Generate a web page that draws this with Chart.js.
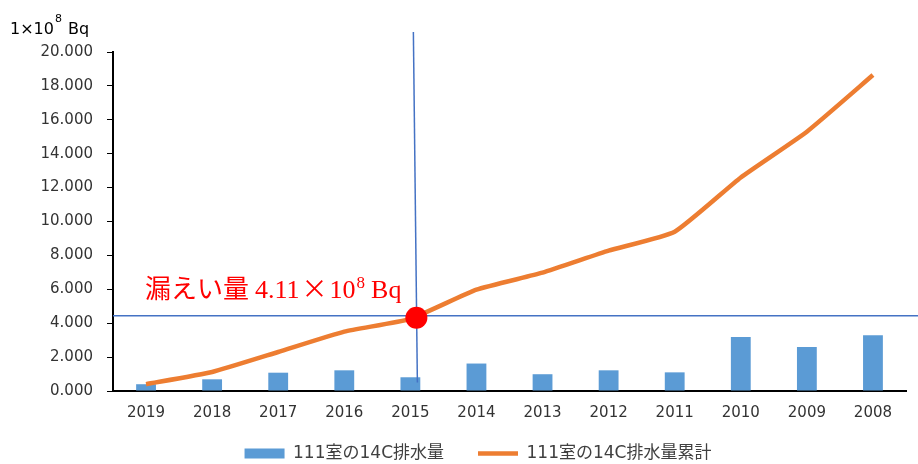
<!DOCTYPE html>
<html>
<head>
<meta charset="utf-8">
<script src="https://cdn.jsdelivr.net/npm/chart.js@4"></script>
<style>
  body { margin: 0; background: #fff; }
  #wrap { width: 918px; height: 464px; }
</style>
</head>
<body>
<div id="wrap"><canvas id="c14-chart"></canvas></div>
<script>
// years, newest first (as in the original sheet)
const years = ['2019', '2018', '2017', '2016', '2015', '2014', '2013', '2012', '2011', '2010', '2009', '2008'];
// yearly 14C drainage from room 111 (x1e8 Bq)
const yearly = [0.40, 0.69, 1.08, 1.22, 0.81, 1.62, 0.99, 1.22, 1.10, 3.19, 2.60, 3.29];
// running total
const cumulative = [0.40, 1.12, 2.30, 3.50, 4.26, 5.98, 6.98, 8.28, 9.40, 12.60, 15.30, 18.64];
// marker for the leak estimate
const leakYear = '2015';
const leakValue = 4.32;
const leakLine = 4.44;
const yTicks = [0, 2, 4, 6, 8, 10, 12, 14, 16, 18, 20];

const ctx = document.getElementById('c14-chart').getContext('2d');

// draws text pieces one after another, returns end x
function pieces(c, x, y, parts) {
    parts.forEach(p => {
        c.font = p.font;
        c.fillText(p.text, x, y + (p.dy || 0));
        x += c.measureText(p.text).width + (p.gap || 0);
    });
    return x;
}

// extra drawing: unit label, cross lines, red dot and red note
const overlay = {
    id: 'overlay',
    afterLayout(chart) {
        // legend keeps wide gaps between items but sits low like the original
        chart.legend.top -= 26;
        chart.legend.left += 50;
    },
    afterDatasetsDraw(chart) {
        const c = chart.ctx;
        const xs = chart.scales.x, ys = chart.scales.y;
        const area = chart.chartArea;
        const lx = xs.getPixelForValue(years.indexOf(leakYear)) + 5;
        const ly = ys.getPixelForValue(leakLine);
        c.save();
        c.strokeStyle = '#4472C4';
        c.lineWidth = 1.5;
        c.beginPath();
        c.moveTo(area.left, ly);
        c.lineTo(chart.width, ly);
        c.stroke();
        c.beginPath();
        c.moveTo(lx - 2, 32);
        c.lineTo(lx + 2, ys.getPixelForValue(0.5));
        c.stroke();
        // dot
        c.fillStyle = '#FF0000';
        c.beginPath();
        c.arc(lx + 1, ys.getPixelForValue(leakValue), 11, 0, Math.PI * 2);
        c.fill();
        c.restore();
    },
    afterDraw(chart) {
        const c = chart.ctx;
        c.save();
        c.textBaseline = 'alphabetic';
        // unit
        c.fillStyle = '#000';
        pieces(c, 10, 34, [
            { text: '1×10', font: '16px "DejaVu Sans"', gap: 1 },
            { text: '8', font: '11px "DejaVu Sans"', dy: -12, gap: 6 },
            { text: 'Bq', font: '16px "DejaVu Sans"' }
        ]);
        // red note
        c.fillStyle = '#FF0000';
        pieces(c, 145, 298, [
            { text: '漏えい量', font: '26px "Noto Sans CJK JP"', gap: 6 },
            { text: '4.11', font: '26px "Liberation Serif"', gap: 2 },
            { text: '×', font: '26px "Noto Sans CJK JP"', gap: 2 },
            { text: '10', font: '26px "Liberation Serif"', gap: 1 },
            { text: '8', font: '17px "Liberation Serif"', dy: -10, gap: 6 },
            { text: 'Bq', font: '26px "Liberation Serif"' }
        ]);
        c.restore();
    }
};

const chart = new Chart(ctx, {
    type: 'bar',
    data: {
        labels: years,
        datasets: [{
            label: '111室の14C排水量',
            data: yearly,
            backgroundColor: '#5B9BD5',
            borderWidth: 0,
            barPercentage: 0.5,
            categoryPercentage: 0.6,
            pointStyle: 'rect',
            order: 3
        }, {
            type: 'line',
            label: '111室の14C排水量累計',
            data: cumulative,
            borderColor: '#ED7D31',
            backgroundColor: '#ED7D31',
            borderWidth: 4.5,
            tension: 0.15,
            pointRadius: 0,
            pointStyle: 'line',
            order: 2
        }]
    },
    options: {
        responsive: true,
        maintainAspectRatio: false,
        animation: false,
        layout: { padding: { top: 52, right: 12, left: 0, bottom: 0 } },
        plugins: {
            tooltip: { enabled: false },
            legend: {
                position: 'bottom',
                maxHeight: 27,
                labels: {
                    sort: (a, b) => a.datasetIndex - b.datasetIndex,
                    usePointStyle: true,
                    pointStyleWidth: 40,
                    boxHeight: 10,
                    padding: 34,
                    color: '#404040',
                    font: { size: 17, family: '"DejaVu Sans", "Noto Sans CJK JP"' }
                }
            }
        },
        scales: {
            x: {
                grid: { display: false },
                border: { color: '#000', width: 2 },
                afterFit: s => { s.height += 10; },
                ticks: { color: '#333', padding: 5, font: { size: 15, family: '"DejaVu Sans"' } }
            },
            y: {
                min: 0,
                max: 20,
                afterBuildTicks: s => { s.ticks = yTicks.map(v => ({ value: v })); },
                afterFit: s => { s.width = 113; },
                grid: { drawOnChartArea: false, drawTicks: true, tickLength: 6, color: '#000', width: 2 },
                border: { color: '#000', width: 2 },
                ticks: {
                    color: '#333',
                    padding: 14,
                    font: { size: 15, family: '"DejaVu Sans"' },
                    callback: v => v.toFixed(3)
                }
            }
        }
    },
    plugins: [overlay]
});
</script>
</body>
</html>
